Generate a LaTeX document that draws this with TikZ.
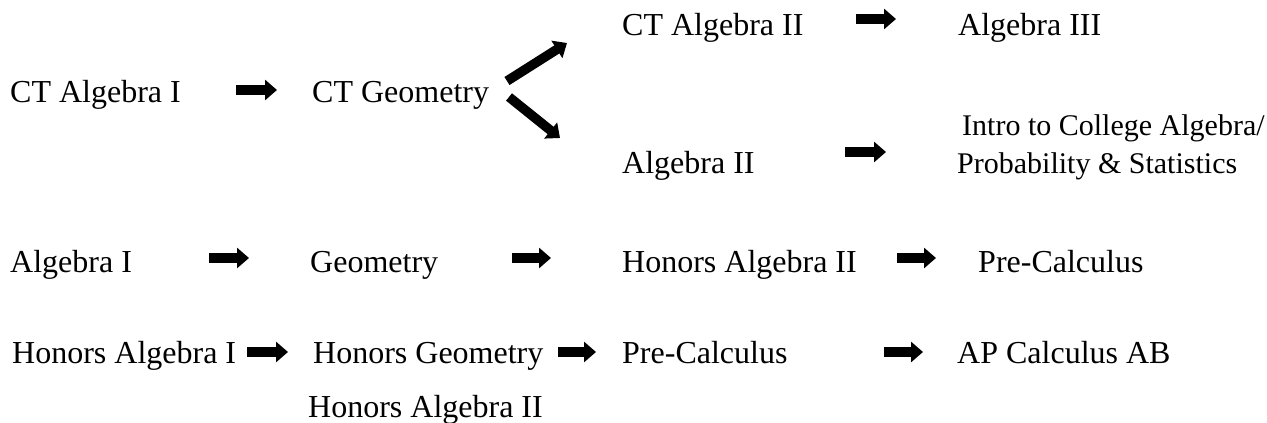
\documentclass[tikz,border=0pt]{standalone}
\usepackage{fontspec}
\setmainfont{Liberation Serif}
\usetikzlibrary{arrows.meta}
\tikzset{
  lbl/.style={anchor=base west, inner sep=0pt, font=\fontsize{32}{37}\selectfont},
  lblsm/.style={anchor=base west, inner sep=0pt, font=\fontsize{30}{35}\selectfont},
  blockarrow/.style={line width=9.5pt, -{Triangle[length=12pt,width=20pt]}}
}
\begin{document}
\begin{tikzpicture}[x=1pt,y=-1pt]
\useasboundingbox (0,0) rectangle (1267,423);
% texts
\node[lbl] (ctA1) at (10,102) {CT Algebra I};
\node[lbl] (ctGeo) at (312,102) {CT Geometry};
\node[lbl] (ctA2) at (622,35) {CT Algebra II};
\node[lbl] (alg3) at (958,35) {Algebra III};
\node[lbl] (alg2) at (622,173) {Algebra II};
\node[lblsm] (intro) at (962,135) {Intro to College Algebra/};
\node[lblsm] (prob) at (957,173) {Probability \& Statistics};
\node[lbl] (a1) at (10,272) {Algebra I};
\node[lbl] (geo) at (310,272) {Geometry};
\node[lbl] (hA2) at (622,272) {Honors Algebra II};
\node[lbl] (pc1) at (978,272) {Pre-Calculus};
\node[lbl] (hA1) at (12,363) {Honors Algebra I};
\node[lbl] (hGeo) at (313,363) {Honors Geometry};
\node[lbl] (pc2) at (622,363) {Pre-Calculus};
\node[lbl] (ap) at (957,363) {AP Calculus AB};
\node[lbl] (hA2b) at (308,417) {Honors Algebra II};
% arrow end points
\coordinate (r1s) at (236,90);  \coordinate (r1e) at (277,90);
\coordinate (u1s) at (507,81);  \coordinate (u1e) at (567,43);
\coordinate (d1s) at (509,97);  \coordinate (d1e) at (560,138);
\coordinate (t1s) at (856,19);  \coordinate (t1e) at (896,19);
\coordinate (m1s) at (845,152); \coordinate (m1e) at (886,152);
\coordinate (g1s) at (209,258); \coordinate (g1e) at (249,258);
\coordinate (g2s) at (512,258); \coordinate (g2e) at (551,258);
\coordinate (g3s) at (897,258); \coordinate (g3e) at (936,258);
\coordinate (h1s) at (247,352); \coordinate (h1e) at (288,352);
\coordinate (h2s) at (558,352); \coordinate (h2e) at (596,352);
\coordinate (h3s) at (884,352); \coordinate (h3e) at (923,352);
% arrows
\foreach \a in {r1,u1,d1,t1,m1,g1,g2,g3,h1,h2,h3}
  \draw[blockarrow] (\a s) -- (\a e);
\end{tikzpicture}
\end{document}
